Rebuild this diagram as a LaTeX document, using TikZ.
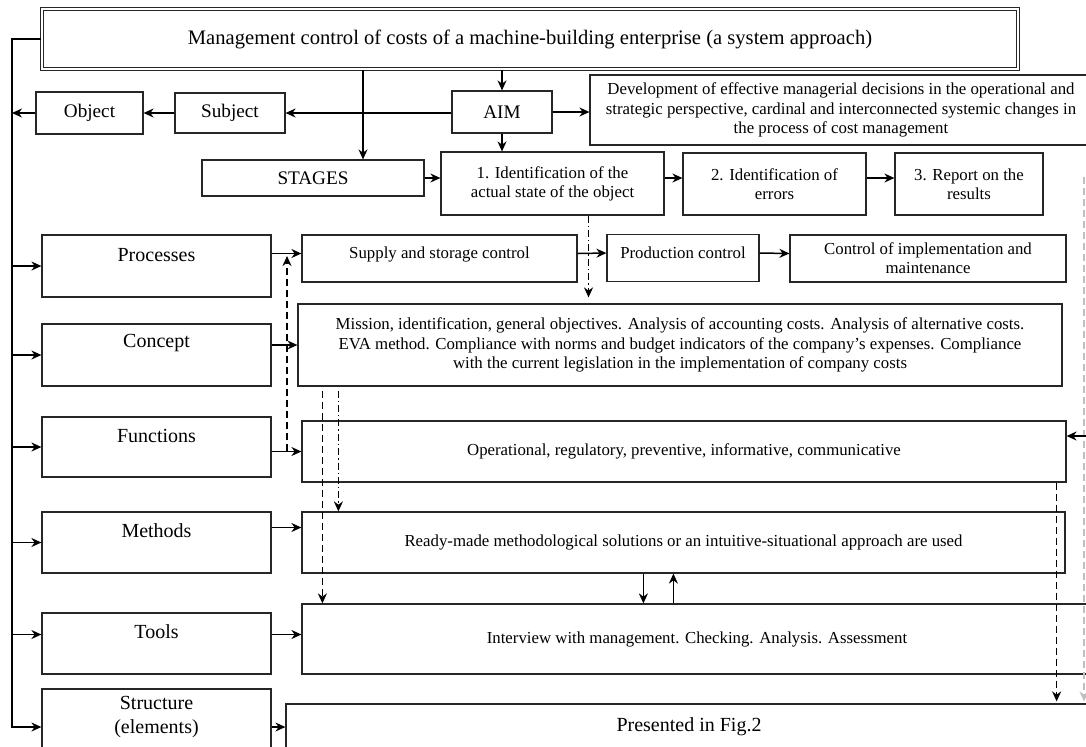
\documentclass[tikz,border=0pt]{standalone}
\usepackage{fontspec}
\setmainfont{Liberation Serif}
\usetikzlibrary{positioning,arrows.meta}

\begin{document}
\begin{tikzpicture}[x=0.5pt,y=-0.5pt,
  box/.style={draw=black!85,line width=0.6pt,inner sep=1pt,align=center,font=\fontsize{8.4}{9.6}\selectfont},
  midbox/.style={box,font=\fontsize{9.6}{11}\selectfont},
  sidebox/.style={box,minimum width=114.5pt,font=\fontsize{10}{12}\selectfont,text height=7pt,text depth=12pt},
  rowbox/.style={box,minimum height=23.5pt,text height=6pt,text depth=6pt},
  arr/.style={-{Stealth[length=5pt,width=4.5pt]},line width=0.75pt},
  dasharr/.style={arr,dash pattern=on 3.5pt off 2pt},
  dotarr/.style={arr,dash pattern=on 3.5pt off 1.5pt on 0.7pt off 1.5pt}]
  \useasboundingbox (0,0) rectangle (1086,746);

  \node[box,double,double distance=1.2pt,minimum width=488pt,minimum height=30pt,font=\fontsize{10.3}{12}\selectfont] (title) at (530,39) {Management control of costs of a machine-building enterprise (a system approach)};

  \node[midbox,minimum width=53.5pt,minimum height=21pt] (obj) at (89.5,113) {Object};
  \node[midbox,minimum width=55pt,minimum height=20pt] (subj) at (230,113) {Subject};
  \node[midbox,minimum width=50pt,minimum height=21pt] (aim) at (502,112) {AIM};
  \node[box,minimum width=251pt,minimum height=35pt] (dev) at (841,110) {Development of effective managerial decisions in the operational and\\strategic perspective, cardinal and interconnected systemic changes in\\the process of cost management};

  \node[midbox,minimum width=111pt,minimum height=18pt] (stages) at (313,178) {STAGES};
  \node[box,minimum width=111.5pt,minimum height=31.5pt] (st1) at (552.5,183.5) {1. Identification of the\\actual state of the object};
  \node[box,minimum width=91.5pt,minimum height=31pt] (st2) at (774.5,184) {2. Identification of\\errors};
  \node[box,minimum width=74pt,minimum height=31pt] (st3) at (969,184) {3. Report on the\\results};

  \node[sidebox,minimum height=31pt] (proc) at (156.5,266) {Processes};
  \node[sidebox,minimum height=31pt,text depth=15pt] (concept) at (156.5,355) {Concept};
  \node[sidebox,minimum height=30pt] (funcs) at (156.5,447) {Functions};
  \node[sidebox,minimum height=30.5pt] (meth) at (156.5,542.5) {Methods};
  \node[sidebox,minimum height=30.5pt] (tools) at (156.5,643.5) {Tools};
  \node[sidebox,minimum height=38pt,text height=19pt,text depth=13pt] (struct) at (156.5,727) {Structure\\(elements)};

  \node[rowbox,minimum width=137.5pt] (supply) at (439.5,258.5) {Supply and storage control};
  \node[rowbox,minimum width=76pt] (prodctl) at (683,258) {Production control};
  \node[box,minimum width=138pt,minimum height=23.5pt] (implctl) at (928,258.5) {Control of implementation and\\maintenance};
  \node[box,minimum width=382pt,minimum height=41pt] (conceptTxt) at (680,345) {Mission, identification, general objectives. Analysis of accounting costs. Analysis of alternative costs.\\EVA method. Compliance with norms and budget indicators of the company's expenses. Compliance\\with the current legislation in the implementation of company costs};
  \node[box,minimum width=382pt,minimum height=30.5pt] (funcsTxt) at (684,451.5) {Operational, regulatory, preventive, informative, communicative};
  \node[box,minimum width=381.5pt,minimum height=30.5pt] (methTxt) at (683.5,542.5) {Ready-made methodological solutions or an intuitive-situational approach are used};
  \node[box,minimum width=395pt,minimum height=35pt] (toolsTxt) at (697,639) {Interview with management. Checking. Analysis. Assessment};
  \node[box,minimum width=403pt,minimum height=23pt,font=\fontsize{10}{12}\selectfont] (fig) at (689,727) {Presented in Fig.2};

  \coordinate (bus) at (12,39);
  \draw[arr] (title.west) -- (bus) -- (bus |- struct.west) -- (struct.west);
  \draw[arr] (bus |- proc.west) -- (proc.west);
  \draw[arr] (bus |- concept.west) -- (concept.west);
  \draw[arr] (bus |- funcs.west) -- (funcs.west);
  \draw[arr] (bus |- meth.west) -- (meth.west);
  \draw[arr] ([yshift=4.5pt]bus |- tools.west) -- ([yshift=4.5pt]tools.west);
  \draw[arr] (obj.west) -- (obj.west -| bus);

  \draw[arr] (subj.west) -- (obj.east);
  \draw[arr] (aim.west |- subj) -- (subj.east);
  \draw[arr] (title.south -| aim) -- (aim.north);
  \draw[arr] (aim.east) -- (aim.east -| dev.west);
  \draw[arr] (aim.south) -- (aim.south |- st1.north);
  \coordinate (stg) at ([xshift=25pt]stages.north);
  \draw[arr] (title.south -| stg) -- (stg);
  \draw[arr] (stages.east) -- (stages.east -| st1.west);
  \draw[arr] ([yshift=3pt]st1.east |- st2) -- ([yshift=3pt]st2.west);
  \draw[arr] ([yshift=3pt]st2.east |- st3) -- ([yshift=3pt]st3.west);

  \draw[arr] ([yshift=2.5pt]proc.east |- supply) -- ([yshift=2.5pt]supply.west);
  \draw[arr] ([yshift=2.5pt]supply.east) -- ([yshift=2.5pt]prodctl.west);
  \draw[arr] ([yshift=2.5pt]prodctl.east) -- ([yshift=2.5pt]implctl.west);
  \draw[arr] (concept.east |- conceptTxt) -- (conceptTxt.west);
  \draw[arr] (funcs.east |- funcsTxt) -- (funcsTxt.west);
  \draw[arr] ([yshift=7.5pt]meth.east) -- ([yshift=7.5pt]meth.east -| methTxt.west);
  \draw[arr] ([yshift=4.5pt]tools.east) -- ([yshift=4.5pt]tools.east -| toolsTxt.west);
  \draw[arr] (struct.east) -- (fig.west);

  \coordinate (s1d) at ([xshift=18pt]st1.south);
  \draw[dotarr,shorten >=3pt] (s1d) -- (s1d |- conceptTxt.north);
  \coordinate (upA) at (287,451);
  \coordinate (upB) at (287,256);
  \draw[dasharr] (upA) -- (upB);
  \coordinate (cA) at ([xshift=12.5pt]conceptTxt.south west);
  \coordinate (cB) at ([xshift=20.5pt]conceptTxt.south west);
  \draw[dasharr,shorten <=2pt] (cA) -- (cA |- toolsTxt.north);
  \draw[dotarr,shorten <=2pt] (cB) -- (cB |- methTxt.north);
  \coordinate (mA) at ([xshift=171pt]methTxt.south west);
  \coordinate (mB) at ([xshift=186pt]methTxt.south west);
  \draw[arr] (mA) -- (mA |- toolsTxt.north);
  \draw[arr] (mB |- toolsTxt.north) -- (mB);

  \coordinate (fA) at ([xshift=-5pt]funcsTxt.south east);
  \draw[dasharr,shorten >=1pt] (fA) -- (fA |- fig.north);
  \coordinate (rtop) at (1084,177);
  \draw[dasharr,gray!50,shorten >=1pt] (rtop) -- (rtop |- fig.north);
  \coordinate (rin) at (1090,436);
  \draw[arr] (rin) -- (rin -| funcsTxt.east);
\end{tikzpicture}
\end{document}
